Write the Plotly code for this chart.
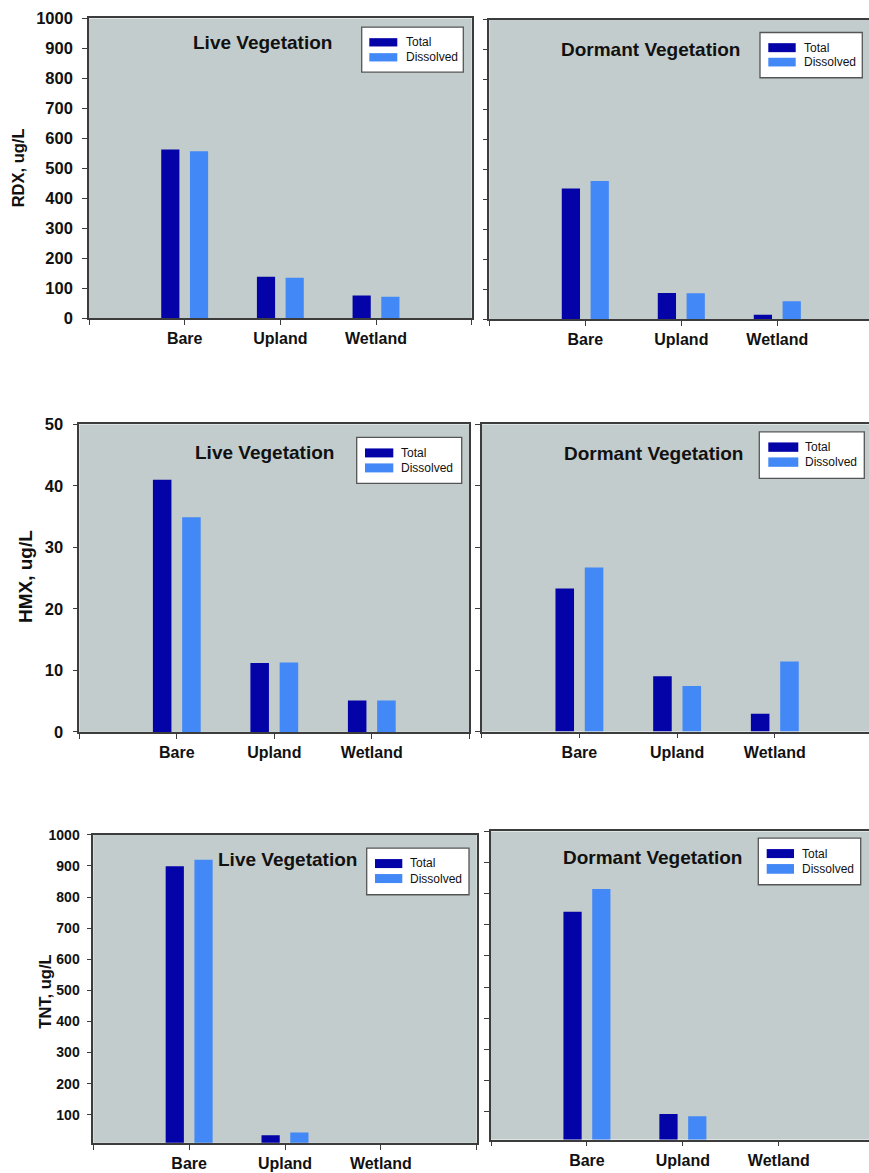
import plotly.graph_objects as go

# ---------------- data ----------------
categories = ["Bare", "Upland", "Wetland"]
series_names = ["Total", "Dissolved"]

rdx_live_total = [563, 138, 76]
rdx_live_dissolved = [557, 135, 72]
rdx_dormant_total = [437, 88, 15]
rdx_dormant_dissolved = [462, 87, 60]

hmx_live_total = [41.0, 11.2, 5.1]
hmx_live_dissolved = [34.9, 11.3, 5.1]
hmx_dormant_total = [23.3, 9.0, 2.9]
hmx_dormant_dissolved = [26.7, 7.4, 11.4]

tnt_live_total = [899, 34, 0]
tnt_live_dissolved = [920, 43, 0]
tnt_dormant_total = [742, 92, 0]
tnt_dormant_dissolved = [815, 85, 0]

panel_titles = ["Live Vegetation", "Dormant Vegetation"]
y_titles = ["RDX, ug/L", "HMX, ug/L", "TNT, ug/L"]
rdx_ticks = [0, 100, 200, 300, 400, 500, 600, 700, 800, 900, 1000]
hmx_ticks = [0, 10, 20, 30, 40, 50]
tnt_ticks = [100, 200, 300, 400, 500, 600, 700, 800, 900, 1000]

# ---------------- style ----------------
W, H = 869, 1173
BG = "#c3cccc"
DARK = "#0303a8"
LIGHT = "#4288f7"
LINE = "#3c3c3c"
FONT = "Liberation Sans, Arial, sans-serif"

# the captured page maps figure y to  ~8.5 + 0.9855*y ; compensate so that
# pixel positions given below (measured on the target) land where intended
Y_OFF, Y_SCALE = 8.5, 0.9855


def X(px):
    return px / W


def Y(py):
    return 1 - ((py - Y_OFF) / Y_SCALE) / H


# panel geometry in pixels: left, right, top, bottom, x-range, y-range
panels = [
    dict(l=89, r=471.7, t=18, b=318, xr=[-1, 3], yr=[0, 1000], ticks=rdx_ticks,
         labels=True, data=(rdx_live_total, rdx_live_dissolved), mirror=True, tfs=16.5, tso=6,
         title=panel_titles[0], tx=262, ty=42, ytitle=y_titles[0], ytx=18, yty=168, ytfs=16.5,
         leg=dict(x0=361.7, x1=463.3, y0=26.7, y1=71.7, sx0=369.3, sx1=397.3,
                  s1=(37.7, 46), s2=(52.7, 61), tx=403.5, t1=41.7, t2=56.7)),
    dict(l=489.3, r=869, t=19.5, b=319, xr=[-1, 2.955], yr=[0, 1000], ticks=rdx_ticks,
         labels=False, data=(rdx_dormant_total, rdx_dormant_dissolved), mirror=False, tfs=16.5, tso=6,
         title=panel_titles[1], tx=650, ty=49,
         leg=dict(x0=760, x1=862.3, y0=32, y1=77.3, sx0=768.3, sx1=795.7,
                  s1=(42.7, 51.7), s2=(57.3, 66), tx=801.5, t1=47.3, t2=62)),
    dict(l=79.3, r=469.3, t=424.3, b=732, xr=[-1, 3], yr=[0, 50], ticks=hmx_ticks,
         labels=True, data=(hmx_live_total, hmx_live_dissolved), mirror=True, tfs=16.5, tso=6,
         title=panel_titles[0], tx=264, ty=452, ytitle=y_titles[1], ytx=25, yty=577, ytfs=19,
         leg=dict(x0=356.7, x1=461.7, y0=437.3, y1=483.3, sx0=365, sx1=393.3,
                  s1=(448.3, 457.3), s2=(463.3, 472.3), tx=398.5, t1=452.7, t2=468.3)),
    dict(l=481.7, r=869, t=424.3, b=731.7, xr=[-1, 2.964], yr=[0, 50], ticks=hmx_ticks,
         labels=False, data=(hmx_dormant_total, hmx_dormant_dissolved), mirror=False, tfs=16.5, tso=6,
         title=panel_titles[1], tx=653, ty=453.5,
         leg=dict(x0=759.3, x1=864.3, y0=431.7, y1=478.3, sx0=768.3, sx1=798.3,
                  s1=(442.3, 451.7), s2=(457.3, 466.7), tx=802.5, t1=447.3, t2=462.3)),
    dict(l=93.3, r=476.7, t=835, b=1143.3, xr=[-1, 3], yr=[10, 1000], ticks=tnt_ticks,
         labels=True, data=(tnt_live_total, tnt_live_dissolved), mirror=True, tfs=14, tso=4,
         title=panel_titles[0], tx=287, ty=860, ytitle=y_titles[2], ytx=45, yty=992, ytfs=16.5,
         leg=dict(x0=366.7, x1=469, y0=848.3, y1=895, sx0=375, sx1=402.3,
                  s1=(859.3, 868.3), s2=(874.3, 883.3), tx=408, t1=863.3, t2=879.3)),
    dict(l=491, r=869, t=831.7, b=1140, xr=[-1, 2.94], yr=[10, 1000], ticks=tnt_ticks,
         labels=False, data=(tnt_dormant_total, tnt_dormant_dissolved), mirror=False, tfs=14, tso=4,
         title=panel_titles[1], tx=652, ty=858,
         leg=dict(x0=758.3, x1=860.7, y0=838.3, y1=885, sx0=766.7, sx1=794,
                  s1=(849.3, 858.3), s2=(864.3, 874), tx=800, t1=854, t2=869.3)),
]

fig = go.Figure()
annotations = []
shapes = []
xpos = list(range(len(categories)))

for i, p in enumerate(panels):
    n = i + 1
    xa = "x" if n == 1 else f"x{n}"
    ya = "y" if n == 1 else f"y{n}"
    total, dissolved = p["data"]
    for vals, name, color, off in ((total, series_names[0], DARK, -0.245),
                                   (dissolved, series_names[1], LIGHT, 0.055)):
        fig.add_trace(go.Bar(
            x=xpos, y=vals, name=name, xaxis=xa, yaxis=ya,
            marker=dict(color=color, line=dict(width=0)),
            width=0.19, offset=off, showlegend=False, hoverinfo="x+y",
        ))

    xkey = "xaxis" if n == 1 else f"xaxis{n}"
    ykey = "yaxis" if n == 1 else f"yaxis{n}"
    fig.update_layout(**{
        xkey: dict(
            domain=[X(p["l"]), X(p["r"])], range=p["xr"], anchor=ya,
            tickvals=[-1] + xpos + [3], ticktext=[""] + categories + [""],
            ticks="outside", ticklen=5, tickwidth=1.3, tickcolor=LINE,
            showline=True, linecolor=LINE, linewidth=1.6, mirror=True,
            showgrid=False, zeroline=False, ticklabelstandoff=0,
            tickfont=dict(family=FONT, size=16, color="#111", weight="bold"),
            fixedrange=True,
        ),
        ykey: dict(
            domain=[Y(p["b"]), Y(p["t"])], range=p["yr"], anchor=xa,
            tickvals=p["ticks"], showticklabels=p["labels"],
            ticks="outside", ticklen=5, tickwidth=1.3, tickcolor=LINE,
            showline=True, linecolor=LINE, linewidth=1.6, mirror=p["mirror"],
            showgrid=False, zeroline=False, ticklabelstandoff=p["tso"],
            tickfont=dict(family=FONT, size=p["tfs"], color="#111", weight="bold"),
            fixedrange=True,
        ),
    })

    # panel title
    annotations.append(dict(
        x=X(p["tx"]), y=Y(p["ty"]), xref="paper", yref="paper",
        text=f"<b>{p['title']}</b>", showarrow=False, xanchor="center", yanchor="middle",
        font=dict(family=FONT, size=19, color="#111"),
    ))
    # y axis title
    if "ytitle" in p:
        annotations.append(dict(
            x=X(p["ytx"]), y=Y(p["yty"]), xref="paper", yref="paper",
            text=f"<b>{p['ytitle']}</b>", showarrow=False, textangle=-90,
            xanchor="center", yanchor="middle",
            font=dict(family=FONT, size=p["ytfs"], color="#111"),
        ))
    # legend box
    lg = p["leg"]
    shapes.append(dict(type="rect", xref="paper", yref="paper",
                       x0=X(lg["x0"]), x1=X(lg["x1"]), y0=Y(lg["y1"]), y1=Y(lg["y0"]),
                       fillcolor="white", line=dict(color="#555", width=1.3)))
    for (sy0, sy1), color in ((lg["s1"], DARK), (lg["s2"], LIGHT)):
        shapes.append(dict(type="rect", xref="paper", yref="paper",
                           x0=X(lg["sx0"]), x1=X(lg["sx1"]), y0=Y(sy1), y1=Y(sy0),
                           fillcolor=color, line=dict(width=0)))
    for ty, name in ((lg["t1"], series_names[0]), (lg["t2"], series_names[1])):
        annotations.append(dict(
            x=X(lg["tx"]), y=Y(ty), xref="paper", yref="paper", text=name,
            showarrow=False, xanchor="left", yanchor="middle",
            font=dict(family=FONT, size=12, color="#111"),
        ))

fig.update_layout(
    width=W, height=H, margin=dict(l=0, r=0, t=0, b=0),
    paper_bgcolor="white", plot_bgcolor=BG,
    annotations=annotations, shapes=shapes, showlegend=False,
    barmode="overlay",
)

fig.write_html(
    "out.html",
    config={"displayModeBar": False},
    post_script="document.body.style.margin='0';document.body.style.overflow='hidden';",
)
